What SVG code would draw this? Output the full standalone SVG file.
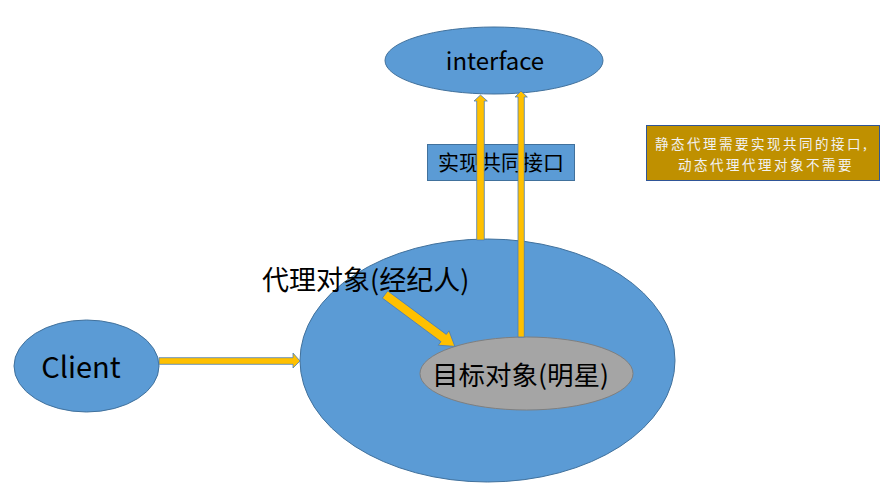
<svg xmlns="http://www.w3.org/2000/svg" width="885" height="489" viewBox="0 0 885 489">
<style>
.blue{fill:#5B9BD5;stroke:#41719C;stroke-width:1}
.gray{fill:#A5A5A5;stroke:#7F7F7F;stroke-width:1}
.arr{fill:#FFC000;stroke:#4A7EBB;stroke-width:0.8}
text{font-family:"Noto Sans CJK SC","Noto Sans",sans-serif;fill:#000}
.note{fill:#F2F2F2;font-size:13.5px;letter-spacing:2.5px}
</style>
<rect width="885" height="489" fill="#fff"/>
<g id="interface">
<ellipse class="blue" cx="494" cy="60.5" rx="109" ry="33.5"/>
<text x="495" y="69.5" font-size="24" text-anchor="middle">interface</text>
</g>
<g id="label-impl">
<rect class="blue" x="427.5" y="144.5" width="147" height="36"/>
<text x="501" y="170" font-size="21" text-anchor="middle">实现共同接口</text>
</g>
<g id="note">
<rect x="646.5" y="125.5" width="233" height="55" fill="#BF9000" stroke="#2F5597" stroke-width="1"/>
<text class="note" x="655" y="148.5">静态代理需要实现共同的接口,</text>
<text class="note" x="678" y="169.5">动态代理代理对象不需要</text>
</g>
<g id="client">
<ellipse class="blue" cx="86.5" cy="366" rx="72.5" ry="46"/>
<text x="81" y="378" font-size="29" text-anchor="middle">Client</text>
</g>
<g id="proxy">
<ellipse class="blue" cx="487.5" cy="360.5" rx="187.5" ry="121.5"/>
<text x="262" y="290" font-size="27">代理对象(经纪人)</text>
</g>
<g id="target">
<ellipse class="gray" cx="526.5" cy="373.5" rx="106.5" ry="36.5"/>
<text x="432" y="385" font-size="26.5">目标对象(明星)</text>
</g>
<g id="connectors">
<polygon class="arr" points="476.7,240 476.7,101 474,101 480.5,95 487.3,101 484.3,101 484.3,240"/>
<polygon class="arr" points="518,337 518,97 515,97 521,91 527.3,97 524.3,97 524.3,337"/>
<polygon class="arr" points="159,357.7 293,357.7 293,353 300,361 293,368 293,364.3 159,364.3"/>
<g transform="translate(385,294.5) rotate(36.6)">
<polygon class="arr" points="0,-4.5 73,-4.5 73,-9 87,0 73,9 73,4.5 0,4.5"/>
</g>
</g>
</svg>
